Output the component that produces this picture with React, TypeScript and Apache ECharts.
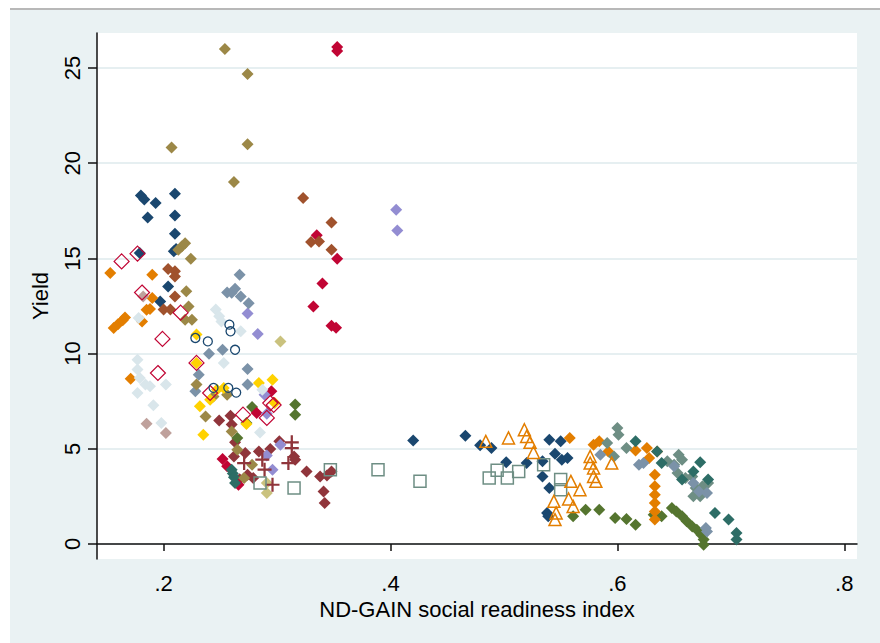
import React, { useEffect, useRef } from "react";
import * as echarts from "echarts";

type Pt = [number, number];

// ---- axis ticks ----
const xTicks = [0.2, 0.4, 0.6, 0.8];
const yTicks = [0, 5, 10, 15, 20, 25];

// ---- data (x = ND-GAIN social readiness index, y = yield) ----
const navyA: Pt[] = [
  [0.180, 18.3], [0.183, 18.1], [0.193, 17.91], [0.210, 18.4], [0.186, 17.15], [0.210, 17.26],
  [0.210, 16.3], [0.179, 15.28], [0.209, 15.37], [0.211, 15.5], [0.204, 13.53], [0.197, 12.74],
];
const navyB: Pt[] = [
  [0.420, 5.44], [0.466, 5.69], [0.479, 5.18], [0.489, 5.04], [0.540, 5.48], [0.550, 5.39],
  [0.502, 4.29], [0.520, 4.25], [0.534, 4.34], [0.545, 4.74], [0.551, 4.43], [0.556, 4.52],
  [0.534, 3.55], [0.540, 2.94], [0.538, 1.63], [0.539, 1.45],
];
const maroon: Pt[] = [
  [0.249, 6.49], [0.259, 6.74], [0.260, 6.27], [0.263, 5.34], [0.272, 4.78], [0.284, 4.86],
  [0.294, 4.99], [0.302, 5.39], [0.315, 4.6], [0.316, 4.43], [0.274, 3.64], [0.279, 3.47],
  [0.326, 3.81], [0.338, 3.55], [0.348, 3.81], [0.344, 3.6], [0.341, 2.76], [0.342, 2.15],
  [0.267, 3.4], [0.262, 4.6],
];
const forestA: Pt[] = [
  [0.316, 7.32], [0.316, 6.79], [0.278, 7.19], [0.273, 6.36], [0.265, 5.57],
];
const forestB: Pt[] = [
  [0.561, 1.45], [0.572, 1.8], [0.584, 1.8], [0.598, 1.37], [0.608, 1.31], [0.616, 1.01],
  [0.632, 1.54], [0.639, 1.45], [0.648, 1.89], [0.652, 1.71], [0.657, 1.45], [0.661, 1.19],
  [0.666, 0.92], [0.670, 0.75], [0.674, 0.49], [0.676, 0.23], [0.676, -0.04],
];
const orangeA: Pt[] = [
  [0.153, 14.23], [0.190, 14.14], [0.156, 11.35], [0.160, 11.55], [0.164, 11.75], [0.166, 11.9],
  [0.188, 12.34], [0.185, 12.3], [0.190, 12.92], [0.181, 11.69], [0.171, 8.68],
];
const orangeB: Pt[] = [
  [0.558, 5.57], [0.579, 5.21], [0.584, 5.39], [0.592, 4.86], [0.616, 4.91], [0.626, 5.04],
  [0.628, 4.52], [0.635, 4.86], [0.633, 3.64], [0.633, 3.03], [0.633, 2.59], [0.633, 2.15],
  [0.633, 1.71], [0.633, 1.28],
];
const tealD: Pt[] = [
  [0.600, 6.09], [0.601, 5.74], [0.591, 5.3], [0.597, 4.6], [0.608, 5.04], [0.644, 4.34],
  [0.650, 4.16], [0.654, 4.69], [0.657, 4.43], [0.653, 3.73], [0.660, 3.47], [0.666, 3.55],
  [0.669, 2.94], [0.675, 3.03], [0.680, 3.2], [0.667, 2.5], [0.673, 2.5],
];
const cranberry: Pt[] = [
  [0.353, 25.9], [0.353, 26.1], [0.335, 16.21], [0.353, 14.98], [0.340, 13.68], [0.332, 12.47],
  [0.348, 11.46], [0.352, 11.36], [0.295, 8.02], [0.282, 6.88], [0.252, 4.46], [0.256, 4.08],
  [0.266, 3.11],
];
const lavender: Pt[] = [
  [0.405, 17.56], [0.406, 16.46], [0.274, 12.1], [0.283, 11.03], [0.289, 7.84], [0.291, 6.84],
  [0.291, 4.65], [0.296, 3.9], [0.303, 5.21],
];
const khaki: Pt[] = [[0.303, 10.64], [0.291, 3.2], [0.291, 2.68]];
const sienna: Pt[] = [
  [0.323, 18.17], [0.348, 16.89], [0.330, 15.86], [0.337, 15.89], [0.348, 15.46],
  [0.204, 14.44], [0.210, 14.32], [0.210, 14.05], [0.210, 13.0], [0.200, 12.31], [0.206, 12.31],
];
const emidblueA: Pt[] = [
  [0.267, 14.14], [0.256, 13.21], [0.263, 13.4], [0.268, 13.0], [0.275, 12.65], [0.260, 13.2],
  [0.240, 9.99], [0.252, 10.2], [0.274, 9.19], [0.231, 8.89], [0.228, 8.02], [0.274, 8.37],
];
const emidblueB: Pt[] = [
  [0.585, 4.69], [0.619, 4.16], [0.623, 4.25], [0.650, 4.08], [0.667, 3.2], [0.672, 2.76],
  [0.679, 2.68], [0.678, 0.84], [0.679, 0.66],
];
const emeraldA: Pt[] = [[0.260, 3.9], [0.261, 3.7], [0.262, 3.5], [0.263, 3.2]];
const emeraldB: Pt[] = [
  [0.616, 5.39], [0.635, 4.86], [0.639, 4.25], [0.673, 4.29], [0.667, 3.81], [0.657, 3.38],
  [0.680, 3.38], [0.686, 1.63], [0.698, 1.28], [0.705, 0.58], [0.705, 0.23],
];
const brown: Pt[] = [
  [0.254, 26.0], [0.274, 24.68], [0.207, 20.83], [0.274, 21.0], [0.262, 19.01], [0.216, 15.63],
  [0.219, 15.8], [0.213, 15.46], [0.224, 14.98], [0.220, 13.27], [0.222, 12.48], [0.219, 11.78],
  [0.225, 11.78], [0.229, 8.37], [0.244, 7.75], [0.256, 7.84], [0.237, 6.7], [0.260, 5.91],
  [0.265, 4.95], [0.278, 4.16], [0.271, 3.47],
];
const erose: Pt[] = [[0.182, 13.0], [0.185, 6.32], [0.202, 5.83]];
const gold: Pt[] = [
  [0.229, 11.0], [0.229, 9.51], [0.247, 8.1], [0.253, 8.19], [0.241, 7.58], [0.232, 7.23],
  [0.235, 5.74], [0.284, 8.46], [0.296, 8.63], [0.298, 7.41], [0.273, 6.3],
];
const bluishgray: Pt[] = [
  [0.178, 11.87], [0.246, 12.31], [0.249, 11.96], [0.251, 11.69], [0.268, 11.17], [0.253, 9.51],
  [0.177, 9.68], [0.177, 9.16], [0.179, 8.72], [0.184, 8.37], [0.177, 7.93], [0.188, 8.28],
  [0.202, 8.37], [0.191, 7.28], [0.198, 6.36], [0.287, 8.1], [0.285, 5.86],
];
const cranberryHollow: Pt[] = [
  [0.163, 14.84], [0.177, 15.25], [0.181, 13.21], [0.215, 12.15], [0.199, 10.77], [0.195, 8.98],
  [0.229, 9.51], [0.241, 7.93], [0.294, 7.4], [0.291, 6.62], [0.270, 6.79], [0.297, 7.3],
];
const navyCircles: Pt[] = [
  [0.258, 11.52], [0.259, 11.17], [0.228, 10.82], [0.239, 10.64], [0.263, 10.2], [0.244, 8.2],
  [0.257, 8.2], [0.264, 7.95],
];
const maroonCross: Pt[] = [
  [0.313, 5.34], [0.313, 5.04], [0.271, 4.25], [0.287, 4.43], [0.289, 3.9], [0.310, 4.25],
  [0.296, 3.11],
];
const tealSquares: Pt[] = [
  [0.285, 3.2], [0.315, 2.94], [0.347, 3.9], [0.389, 3.9], [0.426, 3.29], [0.487, 3.47],
  [0.494, 3.87], [0.503, 3.47], [0.513, 3.81], [0.535, 4.16], [0.550, 3.38], [0.550, 2.85],
];
const orangeTriangles: Pt[] = [
  [0.484, 5.39], [0.504, 5.57], [0.518, 6.0], [0.520, 5.65], [0.523, 5.34], [0.526, 4.81],
  [0.559, 3.29], [0.567, 2.85], [0.544, 2.24], [0.557, 2.36], [0.561, 1.97], [0.546, 1.63],
  [0.545, 1.28], [0.576, 4.6], [0.576, 4.25], [0.579, 3.99], [0.579, 3.55], [0.581, 3.29],
  [0.595, 4.25],
];

const C = {
  navy: "#1a476f", maroon: "#90353b", forest: "#55752f", dkorange: "#e37e00",
  teal: "#6e8e84", cranberry: "#c10534", lavender: "#938dd2", khaki: "#cac27e",
  sienna: "#a0522d", emidblue: "#7b92a8", emerald: "#2d6d66", brown: "#9c8847",
  erose: "#bfa19c", gold: "#ffd200", bluishgray: "#d9e6eb",
};

const CROSS = "path://M4.2,0H5.8V4.2H10V5.8H5.8V10H4.2V5.8H0V4.2H4.2Z";

function filled(name: string, data: Pt[], color: string) {
  return {
    type: "scatter", name, data, symbol: "diamond", symbolSize: 12,
    itemStyle: { color, opacity: 1 },
  };
}
function hollow(name: string, data: Pt[], color: string, symbol: string, size: number, bw: number) {
  return {
    type: "scatter", name, data, symbol, symbolSize: size,
    itemStyle: { color: "rgba(255,255,255,0)", borderColor: color, borderWidth: bw, opacity: 1 },
  };
}

export default function App() {
  const ref = useRef<HTMLDivElement>(null);
  useEffect(() => {
    const chart = echarts.init(ref.current!, undefined, { renderer: "svg" });
    const axisFont = { fontFamily: "Liberation Sans, Arial, sans-serif", fontSize: 22, color: "#000" };
    chart.setOption({
      animation: false,
      grid: {
        left: 87, top: 23, right: 23, bottom: 84, show: true,
        backgroundColor: "#ffffff", borderWidth: 0, containLabel: false, outerBoundsMode: "none",
      },
      xAxis: {
        type: "value", min: 0.1413, max: 0.8112,
        axisLine: { show: true, lineStyle: { color: "#111", width: 1.5 } },
        axisTick: { show: true, length: 7, customValues: xTicks, lineStyle: { color: "#111", width: 1.5 } },
        axisLabel: {
          ...axisFont, margin: 13, customValues: xTicks,
          formatter: (v: number) => String(v).replace(/^0\./, "."),
        },
        splitLine: { show: false },
        name: "ND-GAIN social readiness index", nameLocation: "middle", nameGap: 34,
        nameTextStyle: axisFont,
      },
      yAxis: {
        type: "value", min: -0.79, max: 26.84,
        axisLine: { show: true, lineStyle: { color: "#111", width: 1.5 } },
        axisTick: { show: true, length: 9, customValues: yTicks, lineStyle: { color: "#111", width: 1.5 } },
        axisLabel: { ...axisFont, rotate: 90, margin: 14, customValues: yTicks },
        splitLine: { show: true, lineStyle: { color: "#e6eff1", width: 2 } },
        name: "Yield", nameLocation: "middle", nameGap: 46, nameRotate: 90,
        nameTextStyle: axisFont,
      },
      series: [
        filled("navyA", navyA, C.navy),
        filled("navyB", navyB, C.navy),
        filled("maroon", maroon, C.maroon),
        filled("forestA", forestA, C.forest),
        filled("forestB", forestB, C.forest),
        filled("orangeA", orangeA, C.dkorange),
        filled("orangeB", orangeB, C.dkorange),
        filled("tealD", tealD, C.teal),
        filled("cranberry", cranberry, C.cranberry),
        filled("lavender", lavender, C.lavender),
        filled("khaki", khaki, C.khaki),
        filled("sienna", sienna, C.sienna),
        filled("emidblueA", emidblueA, C.emidblue),
        filled("emidblueB", emidblueB, C.emidblue),
        filled("emeraldA", emeraldA, C.emerald),
        filled("emeraldB", emeraldB, C.emerald),
        filled("brown", brown, C.brown),
        filled("erose", erose, C.erose),
        filled("gold", gold, C.gold),
        filled("bluishgray", bluishgray, C.bluishgray),
        hollow("cranberryHollow", cranberryHollow, C.cranberry, "diamond", 15, 1.2),
        hollow("navyCircles", navyCircles, C.navy, "circle", 9, 1.3),
        {
          type: "scatter", name: "maroonCross", data: maroonCross, symbol: CROSS, symbolSize: 14,
          itemStyle: { color: C.maroon, opacity: 1 },
        },
        hollow("tealSquares", tealSquares, C.teal, "rect", 12, 1.5),
        hollow("orangeTriangles", orangeTriangles, C.dkorange, "triangle", 12, 1.5),
      ],
    });
    return () => chart.dispose();
  }, []);
  return (
    <div style={{ position: "fixed", left: 0, top: 0, width: 880, height: 643, background: "#ffffff", overflow: "hidden" }}>
      <div style={{ position: "absolute", left: 10, top: 8, width: 870, height: 2, background: "#b8b8b8" }} />
      <div ref={ref} style={{ position: "absolute", left: 10, top: 10, width: 870, height: 633, background: "#eaf2f3" }} />
    </div>
  );
}
